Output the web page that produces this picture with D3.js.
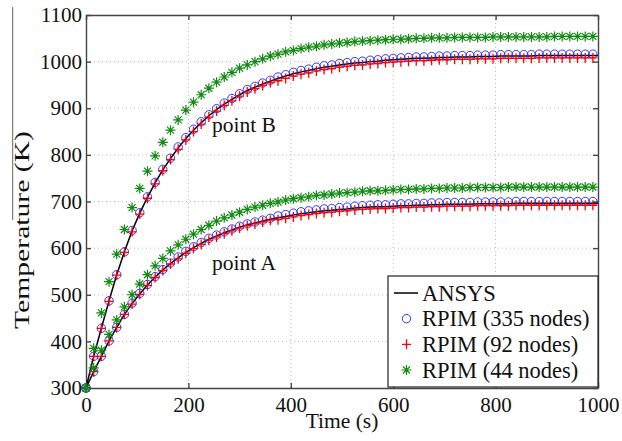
<!DOCTYPE html>
<html>
<head>
<meta charset="utf-8">
<script src="https://cdn.jsdelivr.net/npm/d3@7"></script>
<style>
  body { margin: 0; background: #fff; }
  text { font-family: "Liberation Serif", "Times New Roman", serif; fill: #111; }
</style>
</head>
<body>
<div id="chart"></div>
<script>
// sample times (s) of the RPIM markers
var time = [0,15,30,45,60,75,90,105,120,135,150,165,180,195,210,225,240,255,270,285,
  300,315,330,345,360,375,390,405,420,435,450,465,480,495,510,525,540,555,570,585,
  600,615,630,645,660,675,690,705,720,735,750,765,780,795,810,825,840,855,870,885,
  900,915,930,945,960,975,990];
var lineTime = time.concat([1000]);

// point B
var ansysB = [300,368,428,487,543,592,637,675,709,740,768,792,815,835,853,869,884,897,909,919,
  929,938,945,952,958,964,969,974,978,981,985,988,990,993,995,997,998,1000,1001,1003,
  1004,1005,1006,1007,1007,1008,1009,1009,1010,1010,1010,1011,1011,1011,1012,1012,1012,1012,1012,1013,
  1013,1013,1013,1013,1013,1013,1013,1013];
var rpim335B = [300,368,428,487,543,592,638,676,710,741,769,793,817,837,855,871,886,899,911,921,
  931,940,947,954,960,967,972,977,981,984,988,991,993,996,998,1000,1001,1003,1004,1006,
  1007,1008,1009,1010,1010,1011,1012,1012,1013,1013,1013,1014,1014,1014,1015,1015,1015,1015,1015,1016,
  1016,1016,1016,1016,1016,1016,1016];
var rpim92B = [300,368,428,486,542,591,635,673,707,738,766,790,812,832,850,866,881,894,906,916,
  926,935,942,949,955,959,964,969,973,976,980,983,985,988,990,992,993,995,996,998,
  999,1000,1001,1002,1002,1003,1004,1004,1005,1005,1005,1006,1006,1006,1007,1007,1007,1007,1007,1008,
  1008,1008,1008,1008,1008,1008,1008];
var rpim44B = [300,385,461,528,587,640,687,728,765,798,827,853,875,896,913,929,943,956,967,977,
  986,993,1000,1006,1012,1016,1021,1024,1028,1031,1033,1036,1038,1040,1041,1043,1044,1045,1046,1047,
  1048,1048,1049,1050,1050,1051,1051,1051,1052,1052,1052,1052,1052,1053,1053,1053,1053,1053,1053,1053,
  1053,1054,1054,1054,1054,1054,1054];

// point A
var ansysA = [300,335,368,401,430,458,481,502,521,538,553,567,579,591,601,610,619,626,633,639,
  645,650,654,658,662,665,668,671,674,676,678,680,681,683,684,686,687,688,689,689,
  690,691,691,692,692,693,693,694,694,694,694,695,695,695,695,695,696,696,696,696,
  696,696,696,696,696,696,696,696];
var rpim335A = [300,335,368,401,430,458,482,503,522,539,554,568,581,593,603,612,621,628,635,641,
  647,652,656,660,664,669,672,675,678,680,682,684,685,687,688,690,691,692,693,693,
  694,695,695,696,696,697,697,698,698,698,698,699,699,699,699,699,700,700,700,700,
  700,700,700,700,700,700,700];
var rpim92A = [300,335,368,401,430,458,480,501,520,537,552,566,577,589,599,608,617,624,631,637,
  643,648,652,656,660,661,664,667,670,672,674,676,677,679,680,682,683,684,685,685,
  686,687,687,688,688,689,689,690,690,690,690,691,691,691,691,691,692,692,692,692,
  692,692,692,692,692,692,692];
var rpim44A = [300,343,381,415,446,474,500,523,543,562,578,594,607,619,630,640,649,658,665,671,
  677,683,688,692,696,699,703,706,708,710,713,714,716,718,719,720,722,723,723,724,
  725,726,726,727,727,728,728,729,729,729,730,730,730,730,730,731,731,731,731,731,
  731,731,731,731,731,731,731];

var xTicks = [0, 200, 400, 600, 800, 1000];
var yTicks = [300, 400, 500, 600, 700, 800, 900, 1000, 1100];
var legendLabels = ["ANSYS", "RPIM (335 nodes)", "RPIM (92 nodes)", "RPIM (44 nodes)"];

var svg = d3.select("#chart")
    .append("svg")
    .attr("width", 622)
    .attr("height", 441);

var x = d3.scaleLinear().domain([0, 1000]).range([86, 598]);
var y = d3.scaleLinear().domain([300, 1100]).range([388, 15]);

// dotted grid
svg.append("g").selectAll("line")
    .data(xTicks.slice(1, -1))
    .join("line")
    .attr("x1", d => x(d)).attr("x2", d => x(d))
    .attr("y1", y(300)).attr("y2", y(1100))
    .attr("stroke", "#b8b8b8")
    .attr("stroke-dasharray", "1,3");
svg.append("g").selectAll("line")
    .data(yTicks.slice(1, -1))
    .join("line")
    .attr("x1", x(0)).attr("x2", x(1000))
    .attr("y1", d => y(d)).attr("y2", d => y(d))
    .attr("stroke", "#b8b8b8")
    .attr("stroke-dasharray", "1,3");

// axes box
function styleAxis(g) {
    g.selectAll("path, line").attr("stroke", "#444").attr("stroke-width", 1.4);
    g.selectAll("text").attr("font-size", 21).attr("fill", "#111")
        .attr("font-family", '"Liberation Serif", serif');
}
var fmt = d3.format("d");
svg.append("g").attr("transform", "translate(0," + y(300) + ")")
    .call(d3.axisBottom(x).tickValues(xTicks).tickFormat(fmt)
        .tickSize(-5).tickSizeOuter(0).tickPadding(9))
    .call(styleAxis);
svg.append("g").attr("transform", "translate(" + x(0) + ",0)")
    .call(d3.axisLeft(y).tickValues(yTicks).tickFormat(fmt)
        .tickSize(-5).tickSizeOuter(0).tickPadding(4))
    .call(styleAxis);
svg.append("g").attr("transform", "translate(0," + y(1100) + ")")
    .call(d3.axisTop(x).tickValues(xTicks).tickSize(-5).tickSizeOuter(0).tickFormat(""))
    .call(styleAxis);
svg.append("g").attr("transform", "translate(" + x(1000) + ",0)")
    .call(d3.axisRight(y).tickValues(yTicks).tickSize(-5).tickSizeOuter(0).tickFormat(""))
    .call(styleAxis);

// marker shapes
var plusPath = "M-4.5,0H4.5M0,-5V5";
var starPath = "M-5,0H5M0,-5V5M-3.5,-3.5L3.5,3.5M-3.5,3.5L3.5,-3.5";

function drawCircles(vals) {
    svg.append("g").selectAll("circle")
        .data(vals)
        .join("circle")
        .attr("cx", (d, i) => x(time[i]))
        .attr("cy", d => y(d))
        .attr("r", 4.2)
        .attr("fill", "none")
        .attr("stroke", "#1f1fff")
        .attr("stroke-width", 0.9);
}
function drawPath(vals, p, color, w) {
    svg.append("g").selectAll("path")
        .data(vals)
        .join("path")
        .attr("transform", (d, i) => "translate(" + x(time[i]) + "," + y(d) + ")")
        .attr("d", p)
        .attr("fill", "none")
        .attr("stroke", color)
        .attr("stroke-width", w);
}

var line = d3.line().x((d, i) => x(lineTime[i])).y(d => y(d));
[ansysB, ansysA].forEach(function (vals) {
    svg.append("path")
        .datum(vals)
        .attr("d", line)
        .attr("fill", "none")
        .attr("stroke", "#000")
        .attr("stroke-width", 1.5);
});

drawCircles(rpim335B);
drawCircles(rpim335A);
drawPath(rpim92B, plusPath, "#ff0000", 1.3);
drawPath(rpim92A, plusPath, "#ff0000", 1.3);
drawPath(rpim44B, starPath, "#108a10", 1.2);
drawPath(rpim44A, starPath, "#108a10", 1.2);

// annotations
svg.append("text").attr("x", 212).attr("y", 132).attr("font-size", 21.5).text("point B");
svg.append("text").attr("x", 212).attr("y", 270).attr("font-size", 21.5).text("point A");

// axis labels
svg.append("text")
    .attr("x", 342).attr("y", 428)
    .attr("text-anchor", "middle")
    .attr("font-size", 21.5)
    .text("Time (s)");
svg.append("text")
    .attr("transform", "translate(29,230) rotate(-90)")
    .attr("text-anchor", "middle")
    .attr("font-size", 21.5)
    .attr("textLength", 198)
    .attr("lengthAdjust", "spacingAndGlyphs")
    .text("Temperature (K)");
svg.append("line")
    .attr("x1", 12.7).attr("x2", 12.7)
    .attr("y1", 7).attr("y2", 220)
    .attr("stroke", "#666")
    .attr("stroke-width", 1);

// legend
var lg = svg.append("g");
lg.append("rect")
    .attr("x", 388).attr("y", 276)
    .attr("width", 210).attr("height", 111)
    .attr("fill", "#fff")
    .attr("stroke", "#222")
    .attr("stroke-width", 1.2);
var rowY = d3.scalePoint().domain(legendLabels).range([293, 370]);
lg.selectAll("text")
    .data(legendLabels)
    .join("text")
    .attr("x", 422)
    .attr("y", d => rowY(d) + 7.5)
    .attr("font-size", 22.5)
    .text(d => d);
lg.append("line")
    .attr("x1", 394).attr("x2", 418)
    .attr("y1", rowY(legendLabels[0])).attr("y2", rowY(legendLabels[0]))
    .attr("stroke", "#000").attr("stroke-width", 1.5);
lg.append("circle")
    .attr("cx", 406.5).attr("cy", rowY(legendLabels[1]))
    .attr("r", 4.2).attr("fill", "none")
    .attr("stroke", "#1f1fff").attr("stroke-width", 0.9);
lg.append("path")
    .attr("transform", "translate(406.5," + rowY(legendLabels[2]) + ")")
    .attr("d", plusPath).attr("fill", "none")
    .attr("stroke", "#ff0000").attr("stroke-width", 1.3);
lg.append("path")
    .attr("transform", "translate(406.5," + rowY(legendLabels[3]) + ")")
    .attr("d", starPath).attr("fill", "none")
    .attr("stroke", "#108a10").attr("stroke-width", 1.2);
</script>
</body>
</html>
